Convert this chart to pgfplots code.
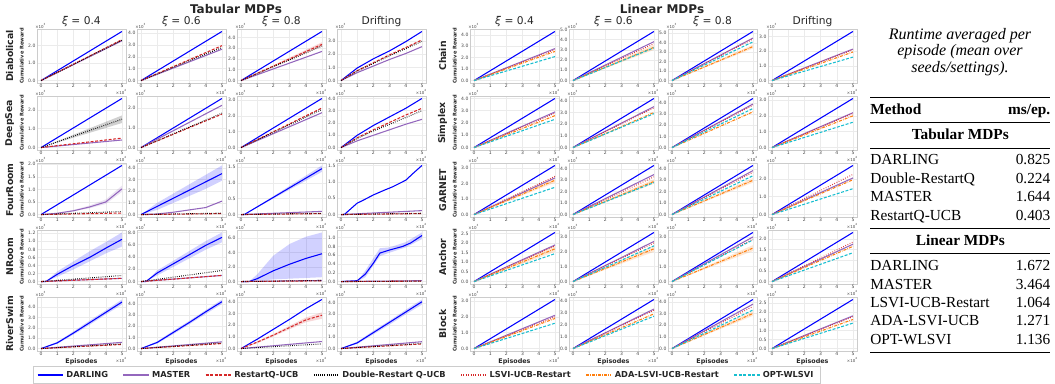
\documentclass[border=0pt]{standalone}
\usepackage{pgfplots}
\pgfplotsset{compat=1.18}
\usepackage{fontspec}
\usepackage{booktabs}
\setmainfont{DejaVu Sans}
\newfontfamily\serif{Liberation Serif}
\definecolor{cblue}{HTML}{0000FF}
\definecolor{cpurple}{HTML}{9467BD}
\definecolor{cred}{HTML}{D62728}
\definecolor{corange}{HTML}{FF7F0E}
\definecolor{ccyan}{HTML}{17BECF}
\definecolor{gridc}{HTML}{EBEBEB}
\definecolor{framec}{HTML}{CCCCCC}
\definecolor{tickc}{HTML}{444444}
\definecolor{txt}{HTML}{262626}
\pgfplotsset{
 yexp/.store in=\yexp, yexp=3,
 base/.style={scale only axis, width=66.75pt, height=40.5pt, anchor=north west,
   clip mode=individual,
   xmin=-0.25, xmax=5.25, enlarge y limits=0.05, xtick={0,...,5},
   grid=major, major grid style={gridc, line width=0.4pt},
   axis line style={framec, line width=0.6pt},
   tick style={draw=none},
   /pgf/number format/assume math mode=true,
   ticklabel style={font=\fontsize{3.4}{4}\selectfont, text=tickc, inner sep=1pt},
   yticklabel style={/pgf/number format/fixed, /pgf/number format/fixed zerofill, /pgf/number format/precision=1},
   scaled ticks=false,
   extra description/.code={
     \node[font=\fontsize{3}{3.5}\selectfont, text=tickc, anchor=south west, inner sep=0.5pt] at (rel axis cs:-0.03,1) {×10\textsuperscript{\yexp}};
     \node[font=\fontsize{3}{3.5}\selectfont, text=tickc, anchor=north east, inner sep=0.5pt] at ([yshift=-4.5pt]rel axis cs:1.02,0) {×10\textsuperscript{4}};
   },
 },
 bot/.style={xlabel=Episodes, xlabel style={font=\fontsize{4.8}{5}\selectfont\bfseries, text=txt, yshift=2.5pt}},
 dar/.style={cblue, line width=0.8pt},
 mas/.style={cpurple, line width=0.8pt},
 rq/.style={cred, line width=0.8pt, dash pattern=on 2.2pt off 1.2pt},
 dbl/.style={black, line width=0.8pt, dash pattern=on 0.5pt off 1.1pt},
 lsvi/.style={cred, line width=0.8pt, dash pattern=on 0.5pt off 1.3pt},
 ada/.style={corange, line width=0.8pt, dash pattern=on 2.2pt off 0.9pt on 0.5pt off 0.9pt},
 opt/.style={ccyan, line width=0.8pt, dash pattern=on 2.2pt off 1.2pt},
 band/.style={fill=#1, fill opacity=0.18, draw=none, forget plot},
}
\newcommand{\lin}[2]{\addplot[#1] coordinates {(0,0) (5,#2)};}
\newcommand{\linb}[3]{\addplot[band=#1] coordinates {(0,0) (5,#2) (5,#3)} -- cycle;}
\tikzset{rowlab/.style={rotate=90, font=\fontsize{7}{7}\selectfont\bfseries, text=txt},
 cumlab/.style={rotate=90, font=\fontsize{3.8}{4}\selectfont\bfseries, text=txt}}
\newcommand{\rowlabels}[1]{\node[rowlab] at ([xshift=-20.5pt]rel axis cs:0,0.5) {#1};\node[cumlab] at ([xshift=-11.5pt]rel axis cs:0,0.5) {Cumulative Reward};}
\begin{document}
\begin{tikzpicture}
\useasboundingbox (0,0) rectangle (791.25pt,-287.25pt);
% ================= TABULAR =================
% Row 1 Diabolical
\begin{axis}[base, at={(27.75pt,-21.75pt)}, ytick={0,1,2}]
\lin{dar}{2.8}\lin{mas}{2.27}\lin{rq}{2.33}\lin{dbl}{2.3}
\rowlabels{Diabolical}
\end{axis}
\begin{axis}[base, at={(102.75pt,-21.75pt)}, ytick={0,1,2,3,4}]
\lin{dar}{4.15}\lin{mas}{2.65}\lin{rq}{2.95}\lin{dbl}{2.8}
\end{axis}
\begin{axis}[base, at={(177.75pt,-21.75pt)}, ytick={0,1,2,3,4}]
\linb{cred}{3.15}{3.55}
\lin{dar}{4.55}\lin{mas}{2.7}\lin{rq}{3.35}\lin{dbl}{3.2}
\end{axis}
\begin{axis}[base, at={(252.75pt,-21.75pt)}, ytick={0,1,2,3}]
\addplot[dar] coordinates {(0,0)(1,0.95)(2,1.65)(3,2.25)(4,2.95)(5,3.72)};
\addplot[mas] coordinates {(0,0)(1,0.6)(2,1.1)(3,1.6)(4,2.05)(5,2.57)};
\addplot[rq] coordinates {(0,0)(1,0.75)(2,1.35)(3,1.95)(4,2.5)(5,3.08)};
\addplot[dbl] coordinates {(0,0)(1,0.72)(2,1.3)(3,1.88)(4,2.42)(5,2.97)};
\end{axis}
% Row 2 DeepSea
\begin{axis}[base, at={(27.75pt,-72pt)}, ytick={0,1,2}]
\addplot[band=black] coordinates {(0,0)(5,1.3)(5,1.7)} -- cycle;
\lin{dar}{2.6}\lin{mas}{0.4}\lin{rq}{0.5}\lin{dbl}{1.5}
\rowlabels{DeepSea}
\end{axis}
\begin{axis}[base, at={(102.75pt,-72pt)}, ytick={0,1,2}]
\lin{dar}{2.5}\lin{mas}{2.15}\lin{rq}{1.7}\lin{dbl}{1.75}
\end{axis}
\begin{axis}[base, at={(177.75pt,-72pt)}, ytick={0,1,2,3}]
\lin{dar}{3.1}\lin{mas}{2.2}\lin{rq}{2.5}\lin{dbl}{2.4}
\end{axis}
\begin{axis}[base, at={(252.75pt,-72pt)}, ytick={0,1,2,3,4}]
\addplot[dar] coordinates {(0,0)(1,1.0)(2,1.8)(3,2.5)(4,3.2)(5,4.0)};
\addplot[mas] coordinates {(0,0)(1,0.55)(2,1.0)(3,1.45)(4,1.9)(5,2.3)};
\addplot[rq] coordinates {(0,0)(1,0.8)(2,1.45)(3,2.05)(4,2.65)(5,3.2)};
\addplot[dbl] coordinates {(0,0)(1,0.75)(2,1.35)(3,1.9)(4,2.45)(5,3.0)};
\end{axis}
% Row 3 FourRoom
\begin{axis}[base, at={(27.75pt,-122.25pt)}, ytick={0,0.5,1,1.5,2}]
\addplot[band=cpurple] coordinates {(0,0)(1,0.04)(2,0.13)(3,0.25)(4,0.42)(5,0.9)(5,1.15)(4,0.6)(3,0.36)(2,0.18)(1,0.07)} -- cycle;
\lin{dar}{1.95}
\addplot[mas] coordinates {(0,0)(1,0.05)(2,0.15)(3,0.3)(4,0.5)(5,1.02)};
\lin{rq}{0.06}\lin{dbl}{0.12}
\rowlabels{FourRoom}
\end{axis}
\begin{axis}[base, at={(102.75pt,-122.25pt)}, ytick={0,1,2,3,4}]
\addplot[band=cblue] coordinates {(0,0)(1,0.4)(2,1.0)(3,1.6)(4,2.2)(5,2.9)(5,4.2)(4,3.4)(3,2.6)(2,1.8)(1,1.0)} -- cycle;
\addplot[dar] coordinates {(0,0)(1,0.7)(2,1.4)(3,2.1)(4,2.8)(5,3.5)};
\addplot[mas] coordinates {(0,0)(1,0.05)(2,0.2)(3,0.4)(4,0.6)(5,1.15)};
\lin{rq}{0.08}\lin{dbl}{0.12}
\end{axis}
\begin{axis}[base, at={(177.75pt,-122.25pt)}, ytick={0,0.5,1,1.5}]
\addplot[band=cblue] coordinates {(0.2,0)(5,1.35)(5,1.55)} -- cycle;
\addplot[dar] coordinates {(0,0)(0.2,0)(5,1.45)};
\lin{mas}{0.1}\lin{rq}{0.03}\lin{dbl}{0.04}
\end{axis}
\begin{axis}[base, at={(252.75pt,-122.25pt)}, ytick={0,0.5,1,1.5}]
\addplot[dar] coordinates {(0,0)(0.2,0)(1,0.35)(1.3,0.42)(2,0.6)(2.7,0.75)(3.2,0.85)(4,1.05)(4.5,1.28)(5,1.5)};
\lin{mas}{0.12}\lin{rq}{0.03}\lin{dbl}{0.04}
\end{axis}
% Row 4 NRoom
\begin{axis}[base, at={(27.75pt,-172.5pt)}, ytick={0,0.2,0.4,0.6,0.8,1.0,1.2}]
\addplot[band=cblue] coordinates {(0.3,0)(1,0.12)(2,0.3)(3,0.5)(4,0.7)(5,0.87)(5,1.22)(4,0.98)(3,0.75)(2,0.5)(1,0.25)} -- cycle;
\addplot[dar] coordinates {(0,0)(0.3,0)(1,0.18)(2,0.4)(3,0.6)(4,0.83)(5,1.05)};
\lin{mas}{0.08}\lin{rq}{0.08}\lin{dbl}{0.15}
\rowlabels{NRoom}
\end{axis}
\begin{axis}[base, at={(102.75pt,-172.5pt)}, ytick={0,2,4,6,8}]
\addplot[band=cblue] coordinates {(0.3,0)(1,1.0)(2,2.4)(3,3.8)(4,5.2)(5,6.4)(5,8.0)(4,6.6)(3,5.0)(2,3.4)(1,1.8)} -- cycle;
\addplot[dar] coordinates {(0,0)(0.3,0)(1,1.4)(2,2.9)(3,4.4)(4,5.9)(5,7.2)};
\lin{mas}{1.0}\lin{rq}{1.0}\lin{dbl}{1.8}
\end{axis}
\begin{axis}[base, at={(177.75pt,-172.5pt)}, ytick={0,2,4,6}]
\addplot[band=cblue] coordinates {(0.5,0)(1,0.1)(2,0.3)(3,0.4)(4,0.5)(5,0.6)(5,6.8)(4,6.2)(3,5.2)(2,3.6)(1,1.0)} -- cycle;
\addplot[dar] coordinates {(0,0)(0.5,0)(1,0.4)(2,1.5)(3,2.4)(4,3.2)(5,3.85)};
\lin{mas}{0.15}\lin{rq}{0.1}\lin{dbl}{0.15}
\end{axis}
\begin{axis}[base, at={(252.75pt,-172.5pt)}, ytick={0,0.2,0.4,0.6,0.8,1.0}]
\addplot[band=cblue] coordinates {(1,0)(1.5,0.1)(2.4,0.58)(3,0.66)(4,0.78)(5,0.97)(5,1.12)(4,0.9)(3,0.78)(2.4,0.76)(1.5,0.25)} -- cycle;
\addplot[dar] coordinates {(0,0)(1,0.02)(1.5,0.17)(2,0.42)(2.4,0.65)(3,0.72)(3.8,0.8)(4.3,0.88)(5,1.05)};
\lin{mas}{0.02}\lin{rq}{0.01}\lin{dbl}{0.01}
\end{axis}
% Row 5 RiverSwim
\begin{axis}[base, bot, at={(27.75pt,-222.75pt)}, ytick={0,1,2,3,4,5}]
\addplot[band=cblue] coordinates {(0,0)(1,0.45)(2,1.35)(3,2.3)(4,3.3)(5,4.25)(5,4.75)(4,3.7)(3,2.7)(2,1.65)(1,0.65)} -- cycle;
\addplot[dar] coordinates {(0,0)(1,0.55)(2,1.5)(3,2.5)(4,3.5)(5,4.5)};
\lin{mas}{0.6}\lin{rq}{0.4}\lin{dbl}{0.45}
\rowlabels{RiverSwim}
\end{axis}
\begin{axis}[base, bot, at={(102.75pt,-222.75pt)}, ytick={0,1,2,3,4}]
\addplot[band=cblue] coordinates {(0,0)(1,0.45)(2,1.3)(3,2.2)(4,3.1)(5,4.0)(5,4.4)(4,3.45)(3,2.5)(2,1.6)(1,0.65)} -- cycle;
\addplot[dar] coordinates {(0,0)(1,0.55)(2,1.45)(3,2.35)(4,3.3)(5,4.2)};
\lin{mas}{0.6}\lin{rq}{0.45}\lin{dbl}{0.5}
\end{axis}
\begin{axis}[base, bot, at={(177.75pt,-222.75pt)}, ytick={0,1,2,3,4}]
\addplot[band=cred] coordinates {(0,0)(1,0.45)(2,1.05)(3,1.65)(4,2.25)(5,2.55)(5,3.1)(4,2.65)(3,1.95)(2,1.25)(1,0.6)} -- cycle;
\addplot[dar] coordinates {(0,0)(1,0.8)(2,1.65)(3,2.5)(4,3.4)(5,4.2)};
\lin{mas}{0.6}
\addplot[rq] coordinates {(0,0)(1,0.55)(2,1.15)(3,1.8)(4,2.45)(5,2.85)};
\lin{dbl}{0.4}
\end{axis}
\begin{axis}[base, bot, at={(252.75pt,-222.75pt)}, ytick={0,1,2,3,4}]
\addplot[band=cblue] coordinates {(0,0)(1,0.4)(2,1.25)(3,2.1)(4,3.0)(5,3.85)(5,4.3)(4,3.4)(3,2.45)(2,1.55)(1,0.6)} -- cycle;
\addplot[dar] coordinates {(0,0)(1,0.5)(2,1.4)(3,2.3)(4,3.2)(5,4.1)};
\lin{mas}{0.6}\lin{rq}{0.4}\lin{dbl}{0.45}
\end{axis}
% ================= LINEAR =================
% Row 1 Chain
\begin{axis}[base, at={(352.5pt,-21.75pt)}, ytick={0,1,2,3,4}]
\lin{dar}{4.3}\lin{mas}{2.8}\lin{lsvi}{2.7}\lin{ada}{2.55}\lin{opt}{2.1}
\rowlabels{Chain}
\end{axis}
\begin{axis}[base, at={(426.75pt,-21.75pt)}, ytick={0,1,2,3,4,5}]
\linb{corange}{3.0}{3.5}
\lin{dar}{4.8}\lin{mas}{3.8}\lin{lsvi}{3.6}\lin{ada}{3.25}\lin{opt}{3.2}
\end{axis}
\begin{axis}[base, at={(501pt,-21.75pt)}, ytick={0,1,2,3,4,5}]
\linb{corange}{3.4}{3.8}
\lin{dar}{5.2}\lin{mas}{4.5}\lin{lsvi}{4.4}\lin{ada}{3.6}\lin{opt}{4.1}
\end{axis}
\begin{axis}[base, at={(576pt,-21.75pt)}, ytick={0,1,2,3}]
\lin{dar}{3.35}\lin{mas}{2.15}\lin{lsvi}{2.1}\lin{ada}{1.95}\lin{opt}{1.6}
\end{axis}
% Row 2 Simplex
\begin{axis}[base, at={(352.5pt,-72pt)}, ytick={0,1,2,3,4}]
\lin{dar}{4.0}\lin{mas}{2.9}\lin{lsvi}{2.8}\lin{ada}{2.6}\lin{opt}{2.3}
\rowlabels{Simplex}
\end{axis}
\begin{axis}[base, at={(426.75pt,-72pt)}, ytick={0,1,2,3,4}]
\lin{dar}{4.2}\lin{mas}{3.5}\lin{lsvi}{3.4}\lin{ada}{3.0}\lin{opt}{2.9}
\end{axis}
\begin{axis}[base, at={(501pt,-72pt)}, ytick={0,1,2,3,4}]
\lin{dar}{4.4}\lin{mas}{3.9}\lin{lsvi}{3.8}\lin{ada}{3.2}\lin{opt}{3.5}
\end{axis}
\begin{axis}[base, at={(576pt,-72pt)}, ytick={0,1,2,3}]
\lin{dar}{3.1}\lin{mas}{2.2}\lin{lsvi}{2.15}\lin{ada}{2.0}\lin{opt}{1.6}
\end{axis}
% Row 3 GARNET
\begin{axis}[base, at={(352.5pt,-122.25pt)}, ytick={0,1,2,3}]
\linb{corange}{2.05}{2.4}
\lin{dar}{3.15}\lin{mas}{2.35}\lin{lsvi}{2.45}\lin{ada}{2.2}\lin{opt}{1.75}
\rowlabels{GARNET}
\end{axis}
\begin{axis}[base, at={(426.75pt,-122.25pt)}, ytick={0,1,2,3,4}]
\linb{corange}{2.7}{3.1}
\lin{dar}{4.3}\lin{mas}{3.5}\lin{lsvi}{3.3}\lin{ada}{2.9}\lin{opt}{2.8}
\end{axis}
\begin{axis}[base, at={(501pt,-122.25pt)}, ytick={0,1,2,3,4}]
\linb{corange}{2.8}{3.2}
\lin{dar}{4.3}\lin{mas}{3.85}\lin{lsvi}{3.7}\lin{ada}{3.0}\lin{opt}{3.4}
\end{axis}
\begin{axis}[base, at={(576pt,-122.25pt)}, ytick={0,1,2}]
\lin{dar}{2.75}\lin{mas}{2.05}\lin{lsvi}{2.25}\lin{ada}{1.95}\lin{opt}{1.45}
\end{axis}
% Row 4 Anchor
\begin{axis}[base, at={(352.5pt,-172.5pt)}, ytick={0,0.5,1,1.5,2,2.5}]
\linb{corange}{1.55}{1.85}
\lin{dar}{2.55}\lin{mas}{1.9}\lin{lsvi}{1.85}\lin{ada}{1.7}\lin{opt}{1.45}
\rowlabels{Anchor}
\end{axis}
\begin{axis}[base, at={(426.75pt,-172.5pt)}, ytick={0,1,2,3}]
\linb{corange}{2.0}{2.4}
\lin{dar}{3.3}\lin{mas}{2.7}\lin{lsvi}{2.6}\lin{ada}{2.2}\lin{opt}{2.4}
\end{axis}
\begin{axis}[base, at={(501pt,-172.5pt)}, ytick={0,1,2,3}]
\linb{corange}{2.05}{2.45}
\lin{dar}{3.3}\lin{mas}{3.0}\lin{lsvi}{2.85}\lin{ada}{2.25}\lin{opt}{2.8}
\end{axis}
\begin{axis}[base, at={(576pt,-172.5pt)}, ytick={0,0.5,1,1.5,2}]
\lin{dar}{2.3}\lin{mas}{1.75}\lin{lsvi}{1.85}\lin{ada}{1.65}\lin{opt}{1.35}
\end{axis}
% Row 5 Block
\begin{axis}[base, bot, at={(352.5pt,-222.75pt)}, ytick={0,1,2,3}]
\lin{dar}{3.1}\lin{mas}{2.1}\lin{lsvi}{2.0}\lin{ada}{1.9}\lin{opt}{1.6}
\rowlabels{Block}
\end{axis}
\begin{axis}[base, bot, at={(426.75pt,-222.75pt)}, ytick={0,1,2,3,4}]
\lin{dar}{4.1}\lin{mas}{3.3}\lin{lsvi}{3.2}\lin{ada}{2.9}\lin{opt}{2.7}
\end{axis}
\begin{axis}[base, bot, at={(501pt,-222.75pt)}, ytick={0,1,2,3,4}]
\linb{corange}{2.8}{3.2}
\lin{dar}{4.2}\lin{mas}{3.8}\lin{lsvi}{3.6}\lin{ada}{3.0}\lin{opt}{3.3}
\end{axis}
\begin{axis}[base, bot, at={(576pt,-222.75pt)}, ytick={0,0.5,1,1.5,2,2.5}]
\lin{dar}{2.7}\lin{mas}{1.8}\lin{lsvi}{1.75}\lin{ada}{1.6}\lin{opt}{1.4}
\end{axis}
% ================= LEGEND =================
\begin{axis}[hide axis, scale only axis, width=10pt, height=10pt, anchor=center, at={(319.9pt,-281.25pt)},
  xmin=0, xmax=1, ymin=0, ymax=1,
  legend columns=7,
  legend style={at={(0.5,0.5)}, anchor=center, draw=framec, line width=0.5pt, font=\fontsize{6.2}{7}\selectfont\bfseries, text=txt,
     inner ysep=1.2pt, inner xsep=3pt, /tikz/every even column/.append style={column sep=9pt}},
  legend image code/.code={\draw[#1, line width=1pt] (0pt,0pt) -- (19pt,0pt);}]
\addlegendimage{dar}\addlegendentry{DARLING}
\addlegendimage{mas}\addlegendentry{MASTER}
\addlegendimage{rq}\addlegendentry{RestartQ-UCB}
\addlegendimage{dbl}\addlegendentry{Double-Restart Q-UCB}
\addlegendimage{lsvi}\addlegendentry{LSVI-UCB-Restart}
\addlegendimage{ada}\addlegendentry{ADA-LSVI-UCB-Restart}
\addlegendimage{opt}\addlegendentry{OPT-WLSVI}
\end{axis}
% ================= TITLES =================
\node[font=\fontsize{9}{9}\selectfont\bfseries, text=txt] at (177pt,-6.5pt) {Tabular MDPs};
\node[font=\fontsize{9}{9}\selectfont\bfseries, text=txt] at (496.5pt,-6.5pt) {Linear MDPs};
\foreach \x/\t in {61.1/{{\itshape ξ} = 0.4},136.1/{{\itshape ξ} = 0.6},211.1/{{\itshape ξ} = 0.8},286.1/{Drifting},
                   385.9/{{\itshape ξ} = 0.4},460.1/{{\itshape ξ} = 0.6},534.4/{{\itshape ξ} = 0.8},609.4/{Drifting}}
  \node[font=\fontsize{8}{8}\selectfont, text=txt] at (\x pt,-16.5pt) {\t};
% ================= TABLE =================
\node[font=\serif\itshape\fontsize{12}{12.4}\selectfont, align=center] at (720pt,-39pt)
  {Runtime averaged per\\episode (mean over\\seeds/settings).};
\node[anchor=north west, inner sep=0pt, font=\serif\fontsize{11.5}{13.8}\selectfont] at (652.5pt,-72.5pt) {%
\renewcommand{\arraystretch}{1.0}%
\begin{tabular*}{135pt}{@{}l@{\extracolsep{\fill}}r@{}}
\toprule
\textbf{Method} & \textbf{ms/ep.}\\
\midrule
\multicolumn{2}{c}{\textbf{Tabular MDPs}}\\
\midrule
DARLING & 0.825\\
Double-RestartQ & 0.224\\
MASTER & 1.644\\
RestartQ-UCB & 0.403\\
\midrule[0.9pt]
\multicolumn{2}{c}{\textbf{Linear MDPs}}\\
\midrule
DARLING & 1.672\\
MASTER & 3.464\\
LSVI-UCB-Restart & 1.064\\
ADA-LSVI-UCB & 1.271\\
OPT-WLSVI & 1.136\\
\bottomrule
\end{tabular*}};
\end{tikzpicture}
\end{document}
